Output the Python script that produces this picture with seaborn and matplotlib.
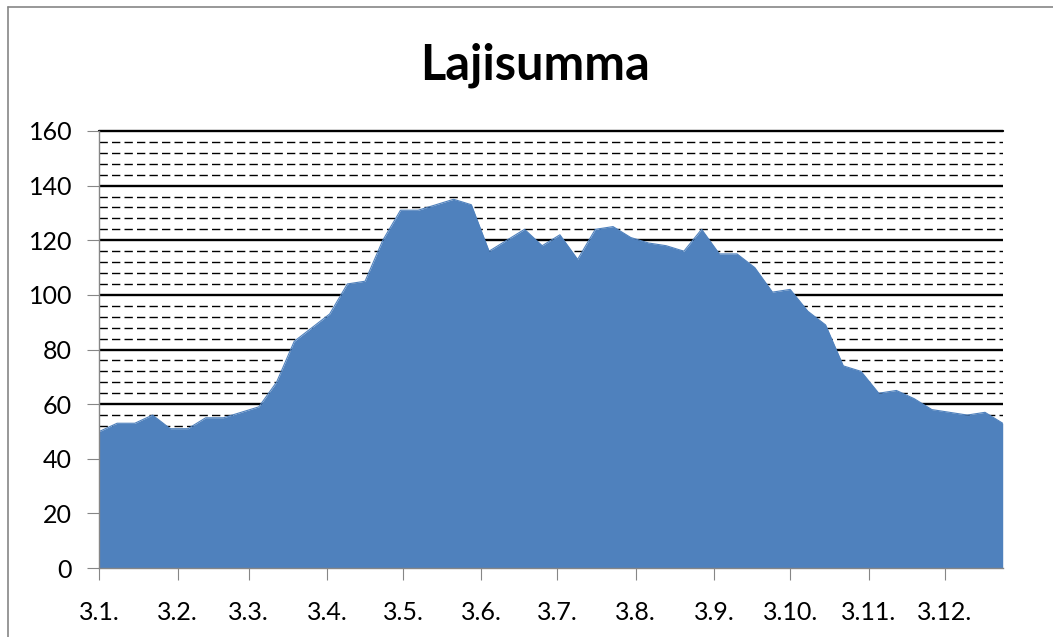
import matplotlib
matplotlib.use('Agg')
import matplotlib.pyplot as plt
import seaborn as sns
import pandas as pd
from matplotlib.ticker import MultipleLocator
from matplotlib.lines import Line2D

# --- data -------------------------------------------------------------
weeks = pd.date_range('2010-01-03', periods=52, freq='7D')
lajisumma = [50, 53, 53, 56, 51, 51, 55, 55, 57, 59,
             68, 83, 88, 93, 104, 105, 120, 131, 131, 133,
             135, 133, 116, 120, 124, 118, 122, 113, 124, 125,
             121, 119, 118, 116, 124, 115, 115, 110, 101, 102,
             94, 89, 74, 72, 64, 65, 62, 58, 57, 56,
             57, 53]
tick_dates = pd.date_range('2010-01-01', periods=12, freq='MS') + pd.Timedelta(days=2)
tick_labels = ['3.1.', '3.2.', '3.3.', '3.4.', '3.5.', '3.6.',
               '3.7.', '3.8.', '3.9.', '3.10.', '3.11.', '3.12.']
title = 'Lajisumma'

df = pd.DataFrame({'date': weeks, 'lajisumma': lajisumma})

# --- style ------------------------------------------------------------
sns.set_theme(style='white')
plt.rcParams['font.family'] = ['Lato', 'DejaVu Sans']

fig = plt.figure(figsize=(10.53, 6.37), dpi=100)
ax = fig.add_axes([99.4 / 1053, 1 - 568 / 637, (1002.7 - 99.4) / 1053, (568 - 131) / 637])

blue = '#4F81BD'
ax.fill_between(df['date'], df['lajisumma'], 0, color=blue, lw=0, zorder=2)
sns.lineplot(data=df, x='date', y='lajisumma', color=blue, lw=0.8, ax=ax, zorder=2)

ax.set_xlim(weeks[0], weeks[-1])
ax.set_ylim(0, 160)
ax.yaxis.set_major_locator(MultipleLocator(20))
ax.yaxis.set_minor_locator(MultipleLocator(4))
ax.set_xticks(tick_dates)
ax.set_xticklabels(tick_labels)
ax.set_xlabel('')
ax.set_ylabel('')

ax.set_axisbelow(True)
ax.grid(False)
ax.grid(which='major', axis='y', color='black', lw=1.7)
ax.grid(which='minor', axis='y', color='black', lw=1.0, ls=(0, (6, 3)))
for t in ax.yaxis.get_major_ticks():
    if abs(t.get_loc() - 160) < 1e-6:
        t.gridline.set_clip_on(False)

for s in ['top', 'right']:
    ax.spines[s].set_visible(False)
for s in ['left', 'bottom']:
    ax.spines[s].set_color('#868686')
    ax.spines[s].set_linewidth(1.0)
    ax.spines[s].set_zorder(3)

ax.tick_params(axis='both', which='major', direction='out', length=8.6, width=0.8,
               color='#868686', labelsize=18, labelcolor='black',
               bottom=True, left=True)
ax.tick_params(axis='y', pad=11)
ax.tick_params(axis='x', pad=15)
ax.tick_params(which='minor', length=0, left=False, bottom=False)

fig.text(535 / 1053, 1 - 80 / 637, title, ha='center', va='baseline',
         fontsize=35, fontweight='bold', color='black')

# chart border (top and left visible)
fig.add_artist(Line2D([8 / 1053, 8 / 1053], [0, 1 - 7 / 637], color='#868686',
                      lw=1.2, transform=fig.transFigure))
fig.add_artist(Line2D([8 / 1053, 1], [1 - 7 / 637, 1 - 7 / 637], color='#868686',
                      lw=1.2, transform=fig.transFigure))

fig.savefig('out.png', dpi=100)
